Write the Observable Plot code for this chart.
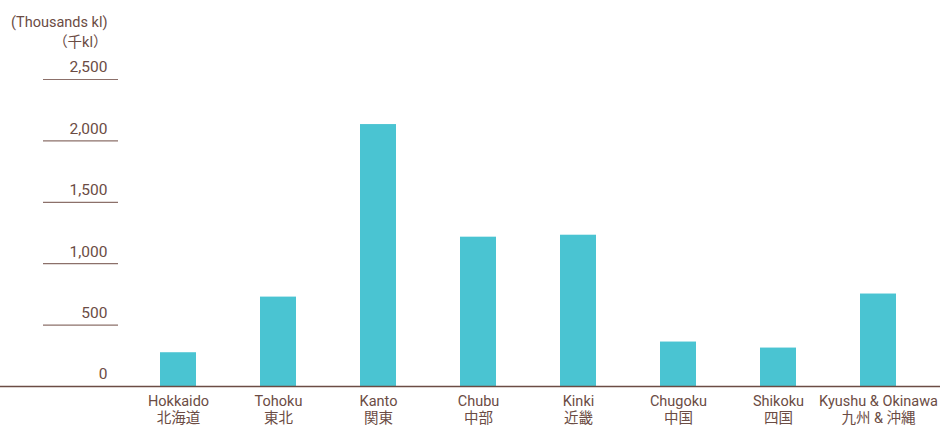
<!DOCTYPE html>
<html><head><meta charset="utf-8">
<script src="https://cdn.jsdelivr.net/npm/d3@7"></script>
<script src="https://cdn.jsdelivr.net/npm/@observablehq/plot@0.6"></script>
<style>body{margin:0;background:#fff;} svg{overflow:visible}</style>
</head><body><div id="chart"></div>
<script>
const regionsEn = ["Hokkaido","Tohoku","Kanto","Chubu","Kinki","Chugoku","Shikoku","Kyushu & Okinawa"];
const regionsJa = ["北海道","東北","関東","中部","近畿","中国","四国","九州 & 沖縄"];
const values = [275, 728, 2133, 1216, 1232, 362, 313, 753];
const yTicks = [0, 500, 1000, 1500, 2000, 2500];
const unitEn = "(Thousands kl)";
const unitJa = "（千kl）";

const data = regionsEn.map((r, i) => ({region: r, label: r + "\n" + regionsJa[i], value: values[i]}));
const labelOf = new Map(data.map(d => [d.region, d.label]));
const txt = "#6b4c44";

const chart = Plot.plot({
  width: 940, height: 426,
  marginLeft: 0, marginRight: 0, marginTop: 79, marginBottom: 40,
  style: {fontFamily: "Roboto, 'Noto Sans CJK JP', sans-serif", fontSize: "14px", color: txt, background: "#fff"},
  x: {domain: regionsEn, range: [128, 928], paddingInner: 0.64, paddingOuter: 0.32, axis: null},
  y: {domain: [0, 2500], axis: null},
  marks: [
    Plot.barY(data, {x: "region", y: "value", fill: "#4ac4d2"}),
    Plot.ruleY(yTicks.filter(d => d > 0), {stroke: "#8c706a", strokeWidth: 1.2, insetLeft: 43, insetRight: 822}),
    Plot.ruleY([0], {stroke: "#6b4c44", strokeWidth: 1.5}),
    Plot.text(yTicks, {y: d => d, text: d => d3.format(",")(d), frameAnchor: "left", dx: 107, dy: -12, textAnchor: "end", fill: txt, fontSize: 15.5}),
    Plot.axisX({domain: regionsEn, tickSize: 0, tickPadding: 8, tickFormat: d => labelOf.get(d), fontSize: 14.5, fill: txt, lineHeight: 1.15, label: null}),
    Plot.text([unitEn], {text: d => d, frameAnchor: "top-left", dx: 107, dy: -63, textAnchor: "end", fill: txt, fontSize: 14.5}),
    Plot.text([unitJa], {text: d => d, frameAnchor: "top-left", dx: 107, dy: -43, textAnchor: "end", fill: txt, fontSize: 14.5})
  ]
});
document.getElementById("chart").append(chart);
</script></body></html>
